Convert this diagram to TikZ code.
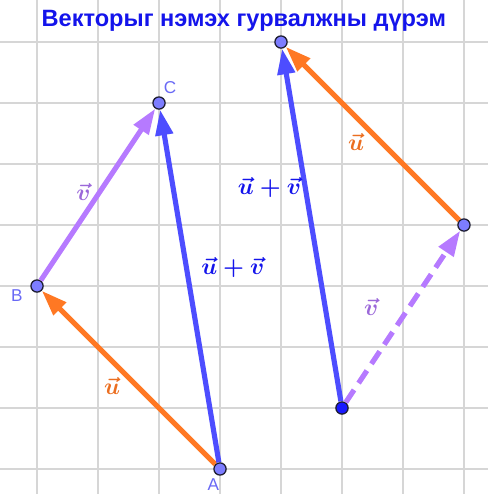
\documentclass[tikz,border=0pt]{standalone}
\usepackage{amsmath,amssymb}
\usepackage{fontspec}
\usepackage{tikz}
\usepackage{xcolor}
\usetikzlibrary{arrows.meta,positioning,calc}
\newfontfamily\titlefont{Liberation Sans}
\definecolor{gridgray}{RGB}{214,214,214}
\definecolor{vecorange}{RGB}{255,120,35}
\definecolor{vecpurple}{RGB}{182,122,255}
\definecolor{sumblue}{RGB}{77,77,255}
\definecolor{ptfill}{RGB}{125,125,255}
\definecolor{ptdark}{RGB}{25,25,255}
\definecolor{ptedge}{RGB}{30,30,50}
\definecolor{labblue}{RGB}{105,105,245}
\definecolor{titleblue}{RGB}{20,20,235}

\begin{document}
\begin{tikzpicture}[x=1cm,y=1cm,
    gridline/.style={gridgray,line width=0.6pt},
    vecline/.style={line width=2.4pt,-{Triangle[length=0.42cm,width=0.28cm]}},
    pt/.style={circle,draw=ptedge,fill=ptfill,line width=0.6pt,inner sep=0pt,minimum size=0.2cm},
    ptlabel/.style={text=labblue,font=\titlefont\fontsize{8}{9.5}\selectfont},
    veclabel/.style={font=\fontsize{10.5}{12}\selectfont}]
    \useasboundingbox (-0.607,-0.41) rectangle (7.393,7.689);
    % Grid
    \draw[gridline] (-0.607,-0.41) grid (7.393,7.689);

    % Title
    \node[anchor=base,text=titleblue,font=\titlefont\bfseries\fontsize{11}{13}\selectfont]
        (title) at (3.39,7.26) {Векторыг нэмэх гурвалжны дүрэм};

    % Left triangle
    \node[pt] (A) at (3,0) {};
    \node[pt] (B) at (0,3) {};
    \node[pt] (C) at (2,6) {};
    \draw[vecline,vecorange] (A) -- (B);
    \draw[vecline,vecpurple] (B) -- (C);
    \draw[vecline,sumblue] (A) -- (C);
    \node[ptlabel] (labA) at (2.89,-0.25) {A};
    \node[ptlabel] (labB) at (-0.33,2.84) {B};
    \node[ptlabel] (labC) at (2.18,6.26) {C};
    \node[veclabel,text=vecorange!92!black] (labU1) at (1.23,1.36) {$\boldsymbol{\vec{u}}$};
    \node[veclabel,text=vecpurple!85!black] (labV1) at (0.76,4.54) {$\boldsymbol{\vec{v}}$};
    \node[veclabel,text=titleblue] (labS1) at (3.21,3.30) {$\boldsymbol{\vec{u}+\vec{v}}$};

    % Right triangle
    \node[pt,fill=ptdark] (D) at (5,1) {};
    \node[pt] (E) at (7,4) {};
    \node[pt] (F) at (4,7) {};
    \draw[vecline,vecpurple,dash pattern=on 7pt off 3.8pt] (D) -- (E);
    \draw[vecline,vecorange] (E) -- (F);
    \draw[vecline,sumblue] (D) -- (F);
    \node[veclabel,text=vecorange!92!black] (labU2) at (5.23,5.36) {$\boldsymbol{\vec{u}}$};
    \node[veclabel,text=vecpurple!85!black] (labV2) at (5.48,2.66) {$\boldsymbol{\vec{v}}$};
    \node[veclabel,text=titleblue] (labS2) at (3.81,4.61) {$\boldsymbol{\vec{u}+\vec{v}}$};
\end{tikzpicture}
\end{document}
